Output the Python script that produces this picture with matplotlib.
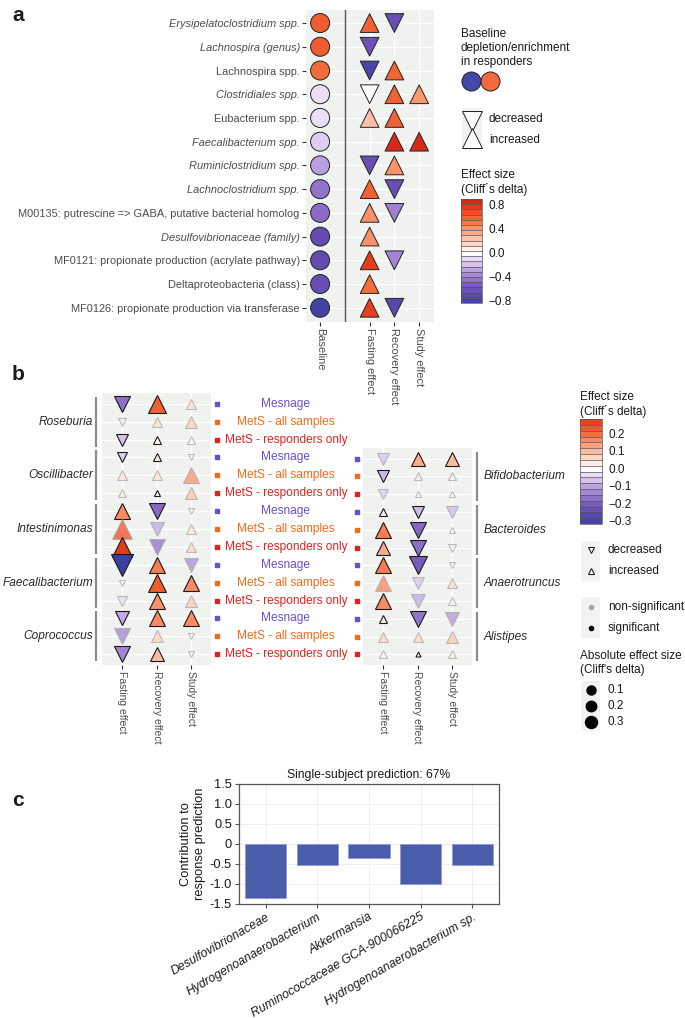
import numpy as np
import matplotlib
matplotlib.use('Agg')
import matplotlib.pyplot as plt
import matplotlib.colorbar as mcb
from matplotlib.colors import LinearSegmentedColormap, Normalize
from matplotlib.patches import Rectangle
from matplotlib.transforms import blended_transform_factory

plt.rcParams['font.family'] = ['Liberation Sans', 'DejaVu Sans']

# ---------------- data ----------------
# panel a
a_labels = ['Erysipelatoclostridium spp.', 'Lachnospira (genus)', 'Lachnospira spp.',
            'Clostridiales spp.', 'Eubacterium spp.', 'Faecalibacterium spp.',
            'Ruminiclostridium spp.', 'Lachnoclostridium spp.',
            'M00135: putrescine => GABA, putative bacterial homolog',
            'Desulfovibrionaceae (family)', 'MF0121: propionate production (acrylate pathway)',
            'Deltaproteobacteria (class)', 'MF0126: propionate production via transferase']
a_italic = [1, 1, 0, 1, 0, 1, 1, 1, 0, 1, 0, 0, 0]
a_columns = ['Baseline', 'Fasting effect', 'Recovery effect', 'Study effect']
nan = np.nan
a_baseline = [0.62, 0.62, 0.56, -0.1, -0.1, -0.16, -0.3, -0.45, -0.48, -0.68, -0.68, -0.66, -0.85]
a_fasting = [0.6, -0.62, -0.8, -0.02, 0.25, nan, -0.65, 0.6, 0.42, 0.42, 0.75, 0.55, 0.75]
a_recovery = [-0.65, nan, 0.58, 0.6, 0.6, 0.85, 0.42, -0.65, -0.4, nan, -0.38, nan, -0.72]
a_study = [nan, nan, nan, 0.38, nan, 0.85, nan, nan, nan, nan, nan, nan, nan]

# panel b
b_groups_left = ['Roseburia', 'Oscillibacter', 'Intestinimonas', 'Faecalibacterium', 'Coprococcus']
b_groups_right = ['Bifidobacterium', 'Bacteroides', 'Anaerotruncus', 'Alistipes']
b_cohorts = ['Mesnage', 'MetS - all samples', 'MetS - responders only']
b_effects = ['Fasting effect', 'Recovery effect', 'Study effect']
b_delta_left = [
    [-0.17, 0.22, 0.05], [-0.02, 0.05, 0.07], [-0.07, 0.02, 0.02],
    [-0.06, 0.02, -0.01], [0.04, 0.04, 0.15], [0.03, 0.01, 0.09],
    [0.16, -0.18, -0.01], [0.25, -0.10, 0.04], [0.28, -0.17, 0.06],
    [-0.33, 0.18, -0.13], [-0.01, 0.23, 0.16], [-0.04, 0.15, 0.08],
    [-0.10, 0.16, 0.16], [-0.14, 0.07, -0.01], [-0.14, 0.10, -0.01],
]
b_sig_left = [
    [1, 1, 0], [0, 0, 0], [1, 1, 0],
    [1, 1, 0], [0, 0, 0], [0, 1, 0],
    [1, 1, 0], [0, 0, 0], [1, 0, 0],
    [1, 1, 0], [0, 1, 1], [0, 1, 0],
    [1, 1, 1], [0, 0, 0], [1, 1, 0],
]
b_delta_right = [
    [-0.07, 0.12, 0.10], [-0.08, 0.03, 0.03], [-0.06, 0.01, 0.01],
    [0.03, -0.08, -0.08], [0.18, -0.18, 0.01], [0.12, -0.17, -0.02],
    [0.18, -0.20, -0.01], [0.17, -0.07, 0.06], [0.16, -0.10, 0.02],
    [0.03, -0.16, -0.12], [0.06, 0.06, 0.08], [0.02, 0.005, 0.03],
]
b_sig_right = [
    [0, 1, 1], [1, 0, 0], [0, 0, 0],
    [1, 1, 0], [1, 1, 0], [1, 1, 0],
    [1, 1, 0], [0, 0, 0], [1, 0, 0],
    [1, 1, 0], [0, 0, 0], [0, 1, 0],
]

# panel c
c_taxa = ['Desulfovibrionaceae', 'Hydrogenoanaerobacterium', 'Akkermansia',
          'Ruminococcaceae GCA-900066225', 'Hydrogenoanaerobacterium sp.']
c_values = [-1.35, -0.52, -0.35, -1.0, -0.52]

# ---------------- style ----------------
W, H = 685, 1018
BG = '#F0F2F0'
TXT = '#4D4D4D'
LEG = 8.5
cmap = LinearSegmentedColormap.from_list('cliff', [
    (0.0, '#3B3F9F'), (0.1, '#5B48AD'), (0.2, '#7A5BBE'), (0.3, '#A98BD8'),
    (0.4, '#D9C8EE'), (0.5, '#FFFFFF'), (0.6, '#FDD3C1'), (0.7, '#FBA27F'),
    (0.8, '#F4703F'), (0.9, '#E8461F'), (1.0, '#CF1E1A')])
norm_a = Normalize(-0.9, 0.9)
norm_b = Normalize(-0.33, 0.33)
cohort_colors = ['#6A50C8', '#F26A1B', '#E3211C']


def box(x0, y0, x1, y1):
    return [x0 / W, 1 - y1 / H, (x1 - x0) / W, (y1 - y0) / H]


fig = plt.figure(figsize=(6.85, 10.18), dpi=100)

# ---------------- panel a ----------------
axa = fig.add_axes(box(306, 10, 434, 322))
axa.set_facecolor(BG)
rows_a = np.arange(1, len(a_labels) + 1)
axa.set_xlim(0.43, 5.6)
axa.set_ylim(len(a_labels) + 0.6, 0.45)
axa.set_xticks([1, 3, 4, 5])
axa.set_xticklabels(a_columns, rotation=-90, fontsize=7.9, color=TXT, va='top', ha='center')
axa.set_yticks(rows_a)
axa.set_yticklabels(a_labels, fontsize=7.9, color=TXT)
for lab, it in zip(axa.get_yticklabels(), a_italic):
    lab.set_style('italic' if it else 'normal')
axa.tick_params(length=3, width=0.8, color='#333333', pad=1.5)
axa.grid(True, color='white', lw=1)
axa.set_axisbelow(True)
for s in axa.spines.values():
    s.set_visible(False)
axa.axvline(2, color='#555555', lw=1)
axa.scatter(np.ones(len(rows_a)), rows_a, c=a_baseline, cmap=cmap, norm=norm_a,
            s=13.7 ** 2, edgecolors='#222222', linewidths=0.7, zorder=3)
for xpos, vals in zip([3, 4, 5], [a_fasting, a_recovery, a_study]):
    vals = np.array(vals)
    for mk, mask in (('^', vals >= 0), ('v', vals < 0)):
        if mask.any():
            axa.scatter(np.full(mask.sum(), xpos), rows_a[mask], c=vals[mask], cmap=cmap,
                        norm=norm_a, marker=mk, s=13.5 ** 2, edgecolors='#222222',
                        linewidths=0.7, zorder=3)

# ---------------- panel b ----------------
def tri_size(d):
    return (2.6 + 33.7 * np.sqrt(abs(d))) / 1.389


def draw_b(ax, rows, delta, sig):
    ax.set_facecolor(BG)
    ax.set_xlim(0.4, 3.6)
    ax.set_xticks([1, 2, 3])
    ax.set_xticklabels(b_effects, rotation=-90, fontsize=7.5, color=TXT, va='top', ha='center')
    ax.set_yticks(rows)
    ax.tick_params(axis='y', length=0, labelleft=False)
    ax.tick_params(axis='x', length=3, width=0.8, color='#333333', pad=1.5)
    ax.grid(True, color='white', lw=1)
    ax.set_axisbelow(True)
    for s in ax.spines.values():
        s.set_visible(False)
    for r, drow, srow in zip(rows, delta, sig):
        for j, (d, sg) in enumerate(zip(drow, srow)):
            ax.plot(j + 1, r, marker='^' if d >= 0 else 'v', ms=tri_size(d),
                    mfc=cmap(norm_b(d)), mec='#1A1A1A' if sg else '#A8A8A8',
                    mew=0.8, alpha=1 if sg else 0.75, ls='none', zorder=3)


axbl = fig.add_axes(box(102, 393, 211, 665))
rows_l = np.arange(1, len(b_delta_left) + 1)
axbl.set_ylim(15.6, 0.4)
draw_b(axbl, rows_l, b_delta_left, b_sig_left)

axbr = fig.add_axes(box(363, 448, 472, 665))
rows_r = np.arange(4, 4 + len(b_delta_right))
axbr.set_ylim(15.6, 3.4)
draw_b(axbr, rows_r, b_delta_right, b_sig_right)

trl = blended_transform_factory(fig.transFigure, axbl.transData)
trr = blended_transform_factory(fig.transFigure, axbr.transData)
for r in rows_l:
    k = (r - 1) % 3
    axbl.text(286 / W, r, b_cohorts[k], transform=trl, ha='center', va='center',
              color=cohort_colors[k], fontsize=8.6)
    axbl.plot([217 / W], [r], 's', transform=trl, ms=2.6, color=cohort_colors[k], clip_on=False)
for r in rows_r:
    k = (r - 1) % 3
    axbr.plot([357 / W], [r], 's', transform=trr, ms=2.6, color=cohort_colors[k], clip_on=False)

for g, name in enumerate(b_groups_left):
    first = 3 * g + 1
    axbl.plot([96 / W, 96 / W], [first - 0.4, first + 2.4], transform=trl, color='#8C8C8C',
              lw=1.6, clip_on=False, solid_capstyle='butt')
    axbl.text(93 / W, first + 1, name, transform=trl, ha='right', va='center',
              style='italic', fontsize=8.6, color='#2A2A2A')
for g, name in enumerate(b_groups_right):
    first = 3 * g + 4
    axbr.plot([477 / W, 477 / W], [first - 0.4, first + 2.4], transform=trr, color='#8C8C8C',
              lw=1.6, clip_on=False, solid_capstyle='butt')
    axbr.text(484 / W, first + 1, name, transform=trr, ha='left', va='center',
              style='italic', fontsize=8.6, color='#2A2A2A')

# ---------------- panel c ----------------
axc = fig.add_axes(box(239, 784, 499, 904))
xc = np.arange(len(c_taxa))
axc.bar(xc, c_values, width=0.8, color='#4A5DAA', edgecolor='#8F9BD0', lw=0.6, zorder=3)
axc.set_xlim(-0.52, len(c_taxa) - 0.48)
axc.set_ylim(-1.5, 1.5)
yt = [-1.5, -1.0, -0.5, 0, 0.5, 1.0, 1.5]
axc.set_yticks(yt)
axc.set_yticklabels(['-1.5', '-1.0', '-0.5', '0', '0.5', '1.0', '1.5'], fontsize=9.3, color='#1A1A1A')
axc.set_xticks(xc)
axc.set_xticklabels(c_taxa, rotation=30, ha='right', rotation_mode='anchor',
                    style='italic', fontsize=8.8, color='#1A1A1A')
axc.tick_params(length=3, width=0.8, color='#555555', pad=2)
axc.grid(True, color='#EDEDED', lw=0.6)
axc.set_axisbelow(True)
for s in axc.spines.values():
    s.set_color('#555555')
    s.set_linewidth(0.9)
axc.set_ylabel('Contribution to\nresponse prediction', fontsize=9.3, color='#1A1A1A', labelpad=3)
axc.set_title('Single-subject prediction: 67%', fontsize=8.7, color='#1A1A1A', pad=4)

# ---------------- colorbars ----------------
cax_a = fig.add_axes(box(461, 199, 482, 303))
ba = np.linspace(-0.85, 0.9, 21)
cba = mcb.Colorbar(cax_a, cmap=cmap, norm=norm_a, boundaries=ba, values=(ba[:-1] + ba[1:]) / 2,
                   drawedges=True, ticks=[-0.8, -0.4, 0, 0.4, 0.8])
cba.set_ticklabels(['\u22120.8', '\u22120.4', '0.0', '0.4', '0.8'])

cax_b = fig.add_axes(box(580, 419, 602, 524))
bb = np.linspace(-0.32, 0.28, 19)
cbb = mcb.Colorbar(cax_b, cmap=cmap, norm=norm_b, boundaries=bb, values=(bb[:-1] + bb[1:]) / 2,
                   drawedges=True, ticks=[-0.3, -0.2, -0.1, 0, 0.1, 0.2])
cbb.set_ticklabels(['\u22120.3', '\u22120.2', '\u22120.1', '0.0', '0.1', '0.2'])
for cb in (cba, cbb):
    cb.dividers.set_color('#555555')
    cb.dividers.set_linewidth(0.5)
    cb.outline.set_edgecolor('#555555')
    cb.outline.set_linewidth(0.5)
    cb.ax.tick_params(length=0, labelsize=LEG, pad=5, labelcolor='#1A1A1A')

# ---------------- legends and letters ----------------
lay = fig.add_axes([0, 0, 1, 1])
lay.set_xlim(0, W)
lay.set_ylim(H, 0)
lay.axis('off')

for lt, yy in (('a', 15), ('b', 375), ('c', 800)):
    lay.text(12, yy, lt, fontsize=15, fontweight='bold', ha='left', va='center', color='#1A1A1A')

# panel a legends
lay.text(461, 28, 'Baseline\ndepletion/enrichment\nin responders', fontsize=LEG, va='top',
         ha='left', linespacing=1.2, color='#1A1A1A')
lay.plot([471], [81], 'o', ms=13.7, mfc='#4448A8', mec='#222222', mew=0.7)
lay.plot([490], [81], 'o', ms=13.7, mfc='#F2693D', mec='#222222', mew=0.7)
lay.add_patch(Rectangle((462, 108), 20, 42, color='#F2F2F2', lw=0))
lay.plot([472], [121], 'v', ms=14, mfc='white', mec='#222222', mew=0.7)
lay.plot([472], [138], '^', ms=14, mfc='white', mec='#222222', mew=0.7)
lay.text(489, 119, 'decreased', fontsize=LEG, va='center', color='#1A1A1A')
lay.text(489, 140, 'increased', fontsize=LEG, va='center', color='#1A1A1A')
lay.text(461, 169, 'Effect size\n(Cliff\u00b4s delta)', fontsize=LEG, va='top', ha='left',
         linespacing=1.2, color='#1A1A1A')

# panel b legends
lay.text(580, 391, 'Effect size\n(Cliff\u00b4s delta)', fontsize=LEG, va='top', ha='left',
         linespacing=1.2, color='#1A1A1A')
lay.add_patch(Rectangle((581, 541), 19, 40, color='#F2F2F2', lw=0))
lay.plot([591], [550], 'v', ms=5, mfc='white', mec='#222222', mew=0.8)
lay.plot([591], [571], '^', ms=5, mfc='white', mec='#222222', mew=0.8)
lay.text(608, 550, 'decreased', fontsize=LEG, va='center', color='#1A1A1A')
lay.text(608, 571, 'increased', fontsize=LEG, va='center', color='#1A1A1A')

lay.add_patch(Rectangle((581, 597), 19, 41, color='#F2F2F2', lw=0))
lay.plot([591], [607], 'o', ms=3, color='#A8A8A8')
lay.plot([591], [628], 'o', ms=3, color='black')
lay.text(608, 607, 'non-significant', fontsize=LEG, va='center', color='#1A1A1A')
lay.text(608, 628, 'significant', fontsize=LEG, va='center', color='#1A1A1A')

lay.text(580, 650, "Absolute effect size\n(Cliff's delta)", fontsize=LEG, va='top', ha='left',
         linespacing=1.2, color='#1A1A1A')
lay.add_patch(Rectangle((581, 681), 19, 50, color='#F2F2F2', lw=0))
for yy, dd, lab in ((690, 9, '0.1'), (706, 10.5, '0.2'), (722, 12, '0.3')):
    lay.plot([591], [yy], 'o', ms=dd / 1.389, color='black')
    lay.text(608, yy, lab, fontsize=LEG, va='center', color='#1A1A1A')

fig.savefig('out.png', dpi=100)
